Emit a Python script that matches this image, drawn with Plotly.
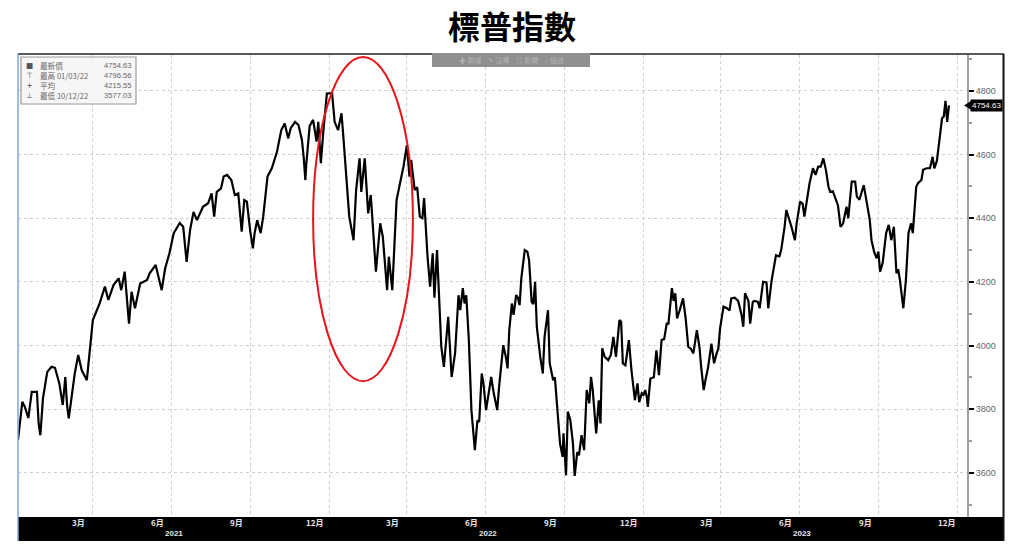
import plotly.graph_objects as go

# ---------------- data ----------------
dates = [
 '2021-01-04','2021-01-09','2021-01-12','2021-01-16','2021-01-20','2021-01-26','2021-01-28','2021-01-30',
 '2021-02-02','2021-02-07','2021-02-12','2021-02-16','2021-02-21','2021-02-25','2021-02-28','2021-03-02',
 '2021-03-04','2021-03-07','2021-03-11','2021-03-15','2021-03-19','2021-03-25','2021-03-28','2021-04-01',
 '2021-04-09','2021-04-15','2021-04-19','2021-04-25','2021-05-01','2021-05-04','2021-05-08','2021-05-13',
 '2021-05-16','2021-05-20','2021-05-26','2021-06-03','2021-06-06','2021-06-13','2021-06-20','2021-06-24',
 '2021-06-29','2021-07-04','2021-07-11','2021-07-15','2021-07-19','2021-07-23','2021-07-27','2021-07-31',
 '2021-08-07','2021-08-13','2021-08-17','2021-08-20','2021-08-23','2021-08-28','2021-08-31','2021-09-04',
 '2021-09-09','2021-09-13','2021-09-17','2021-09-21','2021-09-24','2021-09-27','2021-10-01','2021-10-04',
 '2021-10-06','2021-10-09','2021-10-13','2021-10-16','2021-10-21','2021-10-26','2021-11-01','2021-11-06',
 '2021-11-10','2021-11-14','2021-11-17','2021-11-22','2021-11-26','2021-11-30','2021-12-02','2021-12-04',
 '2021-12-05','2021-12-09','2021-12-13','2021-12-17','2021-12-19','2021-12-22','2021-12-25','2021-12-27',
 '2021-12-29','2022-01-04','2022-01-07','2022-01-11','2022-01-15','2022-01-17','2022-01-24','2022-01-29',
 '2022-02-01','2022-02-05','2022-02-07','2022-02-11','2022-02-15','2022-02-18','2022-02-24','2022-03-01',
 '2022-03-04','2022-03-09','2022-03-11','2022-03-15','2022-03-20','2022-03-24','2022-03-28','2022-04-01',
 '2022-04-04','2022-04-06','2022-04-10','2022-04-13','2022-04-16','2022-04-19','2022-04-21','2022-04-25',
 '2022-04-28','2022-05-01','2022-05-03','2022-05-06','2022-05-09','2022-05-11','2022-05-14','2022-05-17',
 '2022-05-19','2022-05-23','2022-05-27','2022-05-31','2022-06-02','2022-06-05','2022-06-07','2022-06-09',
 '2022-06-12','2022-06-15','2022-06-17','2022-06-19','2022-06-22','2022-06-24','2022-06-27','2022-06-29',
 '2022-07-02','2022-07-04','2022-07-08','2022-07-11','2022-07-15','2022-07-17','2022-07-20','2022-07-22',
 '2022-07-25','2022-07-27','2022-07-29','2022-08-01','2022-08-03','2022-08-06','2022-08-08','2022-08-10',
 '2022-08-12','2022-08-16','2022-08-19','2022-08-21','2022-08-24','2022-08-26','2022-08-28','2022-08-30',
 '2022-09-03','2022-09-06','2022-09-08','2022-09-12','2022-09-14','2022-09-18','2022-09-20','2022-09-23',
 '2022-09-26','2022-09-29','2022-09-30','2022-10-03','2022-10-05','2022-10-08','2022-10-11','2022-10-13',
 '2022-10-16','2022-10-18','2022-10-21','2022-10-24','2022-10-27','2022-10-30','2022-11-01','2022-11-03',
 '2022-11-07','2022-11-10','2022-11-12','2022-11-14','2022-11-17','2022-11-21','2022-11-24','2022-11-27',
 '2022-11-30','2022-12-04','2022-12-06','2022-12-08','2022-12-11','2022-12-15','2022-12-18','2022-12-22',
 '2022-12-25','2022-12-27','2022-12-30','2023-01-01','2023-01-03','2023-01-05','2023-01-06','2023-01-09',
 '2023-01-13','2023-01-16','2023-01-19','2023-01-22','2023-01-25','2023-01-28','2023-01-30','2023-02-03',
 '2023-02-05','2023-02-07','2023-02-09','2023-02-12','2023-02-16','2023-02-19','2023-02-22','2023-02-25',
 '2023-02-28','2023-03-04','2023-03-07','2023-03-09','2023-03-12','2023-03-14','2023-03-17','2023-03-21',
 '2023-03-24','2023-03-27','2023-03-29','2023-03-31','2023-04-04','2023-04-08','2023-04-11','2023-04-13',
 '2023-04-17','2023-04-21','2023-04-25','2023-04-27','2023-04-29','2023-05-03','2023-05-05','2023-05-08',
 '2023-05-10','2023-05-14','2023-05-16','2023-05-20','2023-05-24','2023-05-26','2023-05-30','2023-06-04',
 '2023-06-08','2023-06-10','2023-06-14','2023-06-16','2023-06-20','2023-06-22','2023-06-26','2023-06-28',
 '2023-07-02','2023-07-05','2023-07-07','2023-07-10','2023-07-13','2023-07-17','2023-07-20','2023-07-23',
 '2023-07-26','2023-07-29','2023-08-01','2023-08-04','2023-08-06','2023-08-09','2023-08-11','2023-08-15',
 '2023-08-18','2023-08-21','2023-08-25','2023-08-27','2023-08-31','2023-09-04','2023-09-06','2023-09-09',
 '2023-09-14','2023-09-17','2023-09-21','2023-09-23','2023-09-26','2023-09-29','2023-10-01','2023-10-03',
 '2023-10-06','2023-10-10','2023-10-13','2023-10-16','2023-10-19','2023-10-22','2023-10-24','2023-10-26',
 '2023-10-30','2023-11-02','2023-11-05','2023-11-08','2023-11-10','2023-11-14','2023-11-16','2023-11-20',
 '2023-11-22','2023-11-26','2023-11-30','2023-12-03','2023-12-05','2023-12-08','2023-12-11','2023-12-14',
 '2023-12-16','2023-12-18','2023-12-20','2023-12-22',
]
values = [
 3703,3823,3807,3772,3854,3854,3755,3718,
 3834,3917,3933,3930,3881,3813,3901,3813,
 3771,3839,3913,3970,3923,3891,3970,4080,
 4133,4185,4143,4190,4211,4174,4232,4069,
 4169,4117,4195,4206,4227,4253,4174,4242,
 4290,4353,4385,4373,4263,4363,4420,4394,
 4436,4447,4478,4405,4483,4494,4531,4536,
 4520,4473,4478,4358,4457,4452,4358,4305,
 4353,4394,4353,4405,4531,4557,4609,4677,
 4698,4651,4683,4703,4693,4646,4593,4520,
 4567,4690,4709,4641,4703,4573,4677,4730,
 4792,4793,4703,4677,4730,4662,4405,4331,
 4489,4588,4483,4588,4415,4473,4232,4384,
 4342,4174,4279,4174,4457,4510,4562,4630,
 4531,4583,4489,4497,4405,4400,4463,4279,
 4185,4290,4150,4300,4140,3996,3933,4027,
 4090,3901,3975,4158,4111,4180,4132,4158,
 4017,3797,3745,3671,3765,3760,3912,3880,
 3797,3828,3901,3849,3797,3865,3954,4001,
 3964,3928,4048,4132,4096,4158,4150,4127,
 4211,4300,4295,4269,4137,4130,4200,4059,
 3964,3912,4027,4111,3944,3891,3900,3797,
 3692,3650,3724,3592,3792,3765,3692,3590,
 3665,3655,3718,3671,3860,3818,3901,3860,
 3724,3828,3755,3991,3964,3954,3970,4027,
 3964,4080,4075,3944,3938,4017,3923,3828,
 3881,3822,3850,3845,3860,3835,3807,3896,
 3900,3985,3907,4017,4020,4069,4069,4180,
 4140,4164,4085,4110,4148,4085,3996,3990,
 3975,4048,3996,3933,3860,3891,3930,4006,
 3944,3975,3990,4054,4122,4117,4110,4148,
 4150,4140,4096,4059,4164,4140,4069,4137,
 4140,4137,4117,4200,4198,4117,4206,4284,
 4280,4300,4373,4426,4394,4373,4331,4384,
 4452,4445,4405,4457,4510,4557,4536,4562,
 4562,4588,4552,4499,4483,4485,4468,4441,
 4373,4384,4436,4400,4515,4515,4468,4458,
 4504,4452,4394,4331,4295,4274,4295,4232,
 4260,4353,4379,4331,4373,4227,4240,4206,
 4117,4206,4353,4384,4353,4499,4510,4520,
 4552,4557,4557,4593,4557,4580,4641,4714,
 4720,4769,4703,4754.63,
]

title_text = '標普指數'
y_tickvals = [3600, 3800, 4000, 4200, 4400, 4600, 4800]
y_ticktext = ['3600', '3800', '4000', '4200', '4400', '4600', '4800']
grid_dates = ['2021-04-01', '2021-07-01', '2021-10-01', '2022-01-01', '2022-04-01', '2022-07-01',
              '2022-10-01', '2023-01-01', '2023-04-01', '2023-07-01', '2023-10-01', '2024-01-01']
month_dates = ['2021-03-15', '2021-06-15', '2021-09-15', '2021-12-15', '2022-03-15', '2022-06-15',
               '2022-09-15', '2022-12-15', '2023-03-15', '2023-06-15', '2023-09-16', '2023-12-19']
month_labels = ['3月', '6月', '9月', '12月', '3月', '6月', '9月', '12月', '3月', '6月', '9月', '12月']
year_dates = ['2021-07-04', '2022-07-04', '2023-07-04']
year_labels = ['2021', '2022', '2023']
legend_labels = ['最新價', '最高 01/03/22', '平均', '最低 10/12/22']
legend_icons = ['■', '⊤', '+', '⊥']
legend_values = ['4754.63', '4796.56', '4215.55', '3577.03']
last_value = 4754.63
ellipse_x = ['2021-12-13', '2022-04-08']
ellipse_y = [3888, 4907]

# ---------------- figure ----------------
W, H = 1024, 553
L, R, T, B = 18, 967, 55, 517
pw, ph = R - L, B - T


def px_x(p):
    return (p - L) / pw


def px_y(p):
    return 1 - (p - T) / ph


fig = go.Figure()
fig.add_trace(go.Scatter(x=dates, y=values, mode='lines',
                         line=dict(color='black', width=2.2), hoverinfo='skip', showlegend=False))

shapes = []
annotations = []

# bottom black band
shapes.append(dict(type='rect', xref='paper', yref='paper', x0=px_x(18), x1=px_x(1004),
                   y0=px_y(541), y1=px_y(517), fillcolor='black', line=dict(width=0), layer='above'))
# frame lines
shapes.append(dict(type='line', xref='paper', yref='paper', x0=px_x(18), x1=px_x(1004),
                   y0=px_y(54), y1=px_y(54), line=dict(color='#222', width=1.5)))
shapes.append(dict(type='line', xref='paper', yref='paper', x0=px_x(1003.5), x1=px_x(1003.5),
                   y0=px_y(541), y1=px_y(54), line=dict(color='#111', width=2)))
shapes.append(dict(type='line', xref='paper', yref='paper', x0=px_x(18), x1=px_x(18),
                   y0=px_y(541), y1=px_y(54), line=dict(color='#7fa7d8', width=1.5)))
# red ellipse
shapes.append(dict(type='circle', xref='x', yref='y', x0=ellipse_x[0], x1=ellipse_x[1],
                   y0=ellipse_y[0], y1=ellipse_y[1], line=dict(color='#e8141c', width=2)))
# legend box
shapes.append(dict(type='rect', xref='paper', yref='paper', x0=px_x(21), x1=px_x(136),
                   y0=px_y(104), y1=px_y(57), fillcolor='rgba(245,245,245,0.95)',
                   line=dict(color='#9a9a9a', width=1.2)))
# toolbar
shapes.append(dict(type='rect', xref='paper', yref='paper', x0=px_x(432), x1=px_x(590),
                   y0=px_y(67), y1=px_y(53), fillcolor='#8f8f8f', line=dict(width=0)))
# last value pointer
shapes.append(dict(type='path', xref='paper', yref='y',
                   path=f'M {px_x(964)} {last_value} L {px_x(971)} {last_value + 14} '
                        f'L {px_x(971)} {last_value - 14} Z',
                   fillcolor='black', line=dict(width=0)))

annotations.append(dict(xref='paper', yref='y', x=px_x(970), y=last_value, xanchor='left',
                        yanchor='middle', text=f'{last_value:.2f}', showarrow=False,
                        bgcolor='black', borderpad=1,
                        font=dict(family='Liberation Sans', size=8, color='white')))

for d, t in zip(month_dates, month_labels):
    annotations.append(dict(xref='x', yref='paper', x=d, y=px_y(522.5), text=f'<b>{t}</b>',
                            showarrow=False, xanchor='center', yanchor='middle',
                            font=dict(family='Noto Sans CJK TC', size=8, color='#e8e8e8')))
for d, t in zip(year_dates, year_labels):
    annotations.append(dict(xref='x', yref='paper', x=d, y=px_y(533.5), text=f'<b>{t}</b>',
                            showarrow=False, xanchor='center', yanchor='middle',
                            font=dict(family='Liberation Sans', size=8, color='#e8e8e8')))

# legend block: one multi-line text per column
leg_mid = px_y(80.5)
annotations.append(dict(xref='paper', yref='paper', x=px_x(29), y=leg_mid,
                        text='<br>'.join(legend_icons), showarrow=False, xanchor='center',
                        yanchor='middle', align='center',
                        font=dict(family='DejaVu Sans', size=7.6, color='#555')))
annotations.append(dict(xref='paper', yref='paper', x=px_x(38), y=leg_mid,
                        text='<br>'.join(legend_labels), showarrow=False, xanchor='left',
                        yanchor='middle', align='left',
                        font=dict(family='Noto Sans CJK TC', size=7.6, color='#666')))
annotations.append(dict(xref='paper', yref='paper', x=px_x(133), y=leg_mid,
                        text='<br>'.join(legend_values), showarrow=False, xanchor='right',
                        yanchor='middle', align='right',
                        font=dict(family='Liberation Sans', size=7.6, color='#666')))

annotations.append(dict(xref='paper', yref='paper', x=px_x(511), y=px_y(60),
                        text='✚ 新增    ✎ 注釋    ▤ 新聞    ⌕ 縮放', showarrow=False,
                        xanchor='center', yanchor='middle',
                        font=dict(family='Noto Sans CJK TC', size=7, color='#b4b4b4')))

fig.update_layout(
    width=W, height=H,
    margin=dict(l=L, r=W - R, t=T, b=H - B, pad=0),
    paper_bgcolor='white', plot_bgcolor='white',
    title=dict(text=f'<b>{title_text}</b>', x=0.5, xanchor='center', y=1 - 28 / H, yanchor='middle',
               font=dict(family='Noto Sans CJK TC', size=32, color='black')),
    showlegend=False,
    shapes=shapes,
    annotations=annotations,
    xaxis=dict(type='date', range=['2021-01-04', '2024-01-12'], tickmode='array', tickvals=grid_dates,
               showticklabels=False, ticks='', showgrid=True, gridcolor='#cfcfcf', griddash='dot',
               gridwidth=1, zeroline=False, showline=False, fixedrange=True),
    yaxis=dict(side='right', range=[3461, 4913], tickmode='array', tickvals=y_tickvals,
               ticktext=y_ticktext, ticks='outside', ticklen=5, tickwidth=2, tickcolor='black',
               showgrid=True, gridcolor='#cfcfcf', griddash='dot', gridwidth=1,
               showline=True, linecolor='#a0a0a0', linewidth=2, zeroline=False,
               tickfont=dict(family='Liberation Sans', size=9, color='#666'),
               minor=dict(dtick=100, tick0=3500, ticks='outside', ticklen=3, tickcolor='#999',
                          showgrid=False),
               fixedrange=True),
)

fig.write_html('out.html', config={'displayModeBar': False},
               post_script="document.body.style.margin='0';document.body.style.overflow='hidden';")
